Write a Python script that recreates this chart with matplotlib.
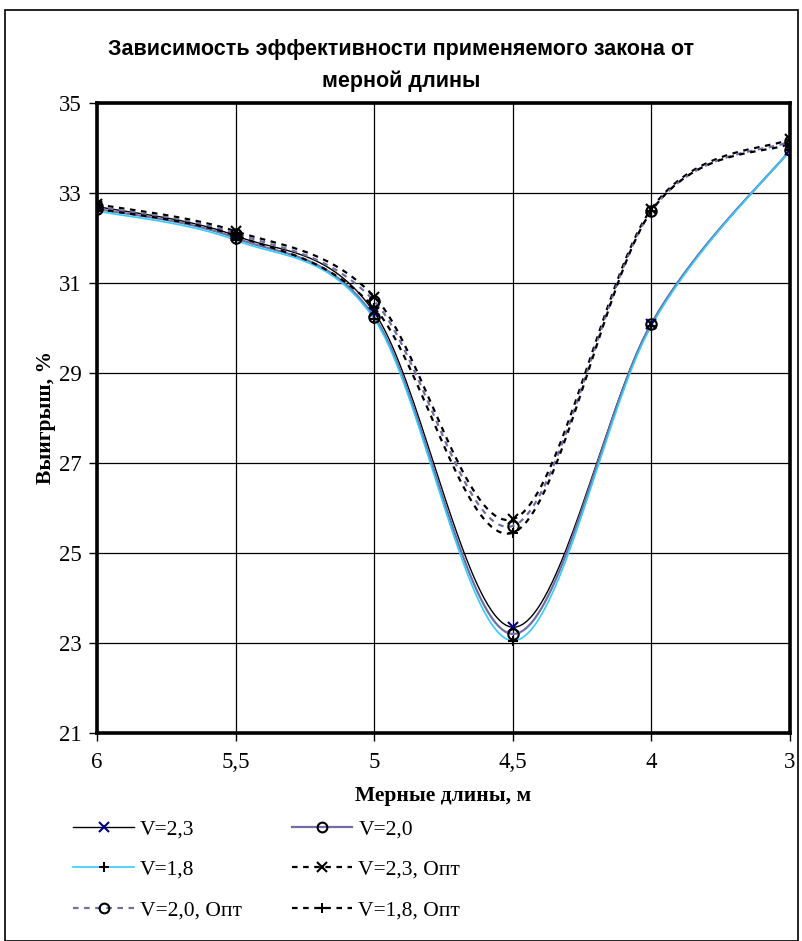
import numpy as np
import matplotlib
matplotlib.use("Agg")
import matplotlib.pyplot as plt
from matplotlib.lines import Line2D
from matplotlib.patches import Rectangle

categories = ["6", "5,5", "5", "4,5", "4", "3"]
v23 = [32.7, 32.05, 30.35, 23.35, 30.1, 33.95]
v20 = [32.65, 32.0, 30.25, 23.2, 30.1, 33.95]
v18 = [32.6, 31.95, 30.2, 23.05, 30.05, 33.95]
v23_opt = [32.75, 32.15, 30.7, 25.75, 32.65, 34.2]
v20_opt = [32.7, 32.1, 30.6, 25.6, 32.6, 34.15]
v18_opt = [32.65, 32.05, 30.45, 25.45, 32.6, 34.1]
labels = ["V=2,3", "V=2,0", "V=1,8", "V=2,3, Опт", "V=2,0, Опт", "V=1,8, Опт"]
yticks = [21, 23, 25, 27, 29, 31, 33, 35]


def excel_smooth(x, y, n=40):
    x = np.asarray(x, float)
    y = np.asarray(y, float)
    P = np.column_stack([x, y])
    out = [P[0]]
    m = len(P)
    for i in range(m - 1):
        p0 = P[i - 1] if i > 0 else P[i]
        p1 = P[i]
        p2 = P[i + 1]
        p3 = P[i + 2] if i + 2 < m else P[i + 1]
        c1 = p1 + (p2 - p0) / 6.0
        c2 = p2 - (p3 - p1) / 6.0
        t = np.linspace(0, 1, n)[1:, None]
        seg = ((1 - t) ** 3) * p1 + 3 * ((1 - t) ** 2) * t * c1 + 3 * (1 - t) * t ** 2 * c2 + t ** 3 * p2
        out.extend(seg)
    out = np.array(out)
    return out[:, 0], out[:, 1]


W, H = 803, 941
fig = plt.figure(figsize=(W / 100, H / 100), dpi=100)
ax = fig.add_axes([97 / W, 1 - 733 / H, (790 - 97) / W, (733 - 103) / H])

x = np.arange(len(categories))
purple = "#6f6fa3"
cyan = "#33ccff"

series = [
    (v23, "-", "black", "x", "#000080", 1.0),
    (v20, "-", purple, "o", "black", 1.6),
    (v18, "-", cyan, "+", "black", 1.2),
    (v23_opt, (0, (2.5, 2.5)), "black", "x", "black", 1.6),
    (v20_opt, (0, (2.5, 2.5)), purple, "o", "black", 1.6),
    (v18_opt, (0, (2.5, 2.5)), "black", "+", "black", 1.6),
]

handles = []
for (vals, ls, col, mk, mcol, lw), lab in zip(series, labels):
    sx, sy = excel_smooth(x, vals)
    ax.plot(sx, sy, linestyle=ls, color=col, linewidth=lw, zorder=3)
    mfc = "none" if mk == "o" else mcol
    ax.plot(x, vals, linestyle="none", marker=mk, markersize=7.5, markeredgecolor=mcol,
            markerfacecolor=mfc, markeredgewidth=1.5, zorder=4)
    handles.append(Line2D([0], [0], linestyle=ls, color=col, linewidth=lw, marker=mk,
                          markersize=7, markeredgecolor=mcol, markerfacecolor=mfc,
                          markeredgewidth=1.5))

ax.set_xlim(0, len(categories) - 1)
ax.set_ylim(21, 35)
ax.set_yticks(yticks)
ax.set_xticks(x)
ax.set_xticklabels(categories)
ax.grid(True, color="black", linewidth=0.9)
ax.set_axisbelow(True)
for s in ax.spines.values():
    s.set_linewidth(2.6)
    s.set_color("black")

for lab in ax.get_yticklabels() + ax.get_xticklabels():
    lab.set_fontfamily("Liberation Serif")
    lab.set_fontsize(16.5)
ax.tick_params(axis="y", direction="out", length=6, width=1, pad=5)
ax.tick_params(axis="x", direction="out", length=6, width=1, pad=8)

ax.set_xlabel("Мерные длины, м", fontfamily="Liberation Serif", fontsize=15.5,
              fontweight="bold", labelpad=9)
ax.set_ylabel("Выигрыш, %", fontfamily="Liberation Serif", fontsize=15.5,
              fontweight="bold", labelpad=2)

fig.text(0.5, 1 - 49 / H, "Зависимость эффективности применяемого закона от",
         ha="center", va="center", fontfamily="Liberation Sans", fontweight="bold", fontsize=15.5)
fig.text(0.5, 1 - 81 / H, "мерной длины",
         ha="center", va="center", fontfamily="Liberation Sans", fontweight="bold", fontsize=15.5)

order = [0, 2, 4, 1, 3, 5]
leg = fig.legend([handles[i] for i in order], [labels[i] for i in order], ncol=2,
                 loc="upper left", bbox_to_anchor=(54 / W, 1 - 800 / H), frameon=False,
                 prop={"family": "Liberation Serif", "size": 15.5}, handlelength=2.8,
                 handletextpad=0.3, columnspacing=2.3, labelspacing=0.95)

fig.patches.append(Rectangle((5 / W, 0), (798 - 5) / W, 1 - 10 / H, transform=fig.transFigure,
                             fill=False, edgecolor="black", linewidth=1.2))

fig.savefig("out.png", dpi=100)
